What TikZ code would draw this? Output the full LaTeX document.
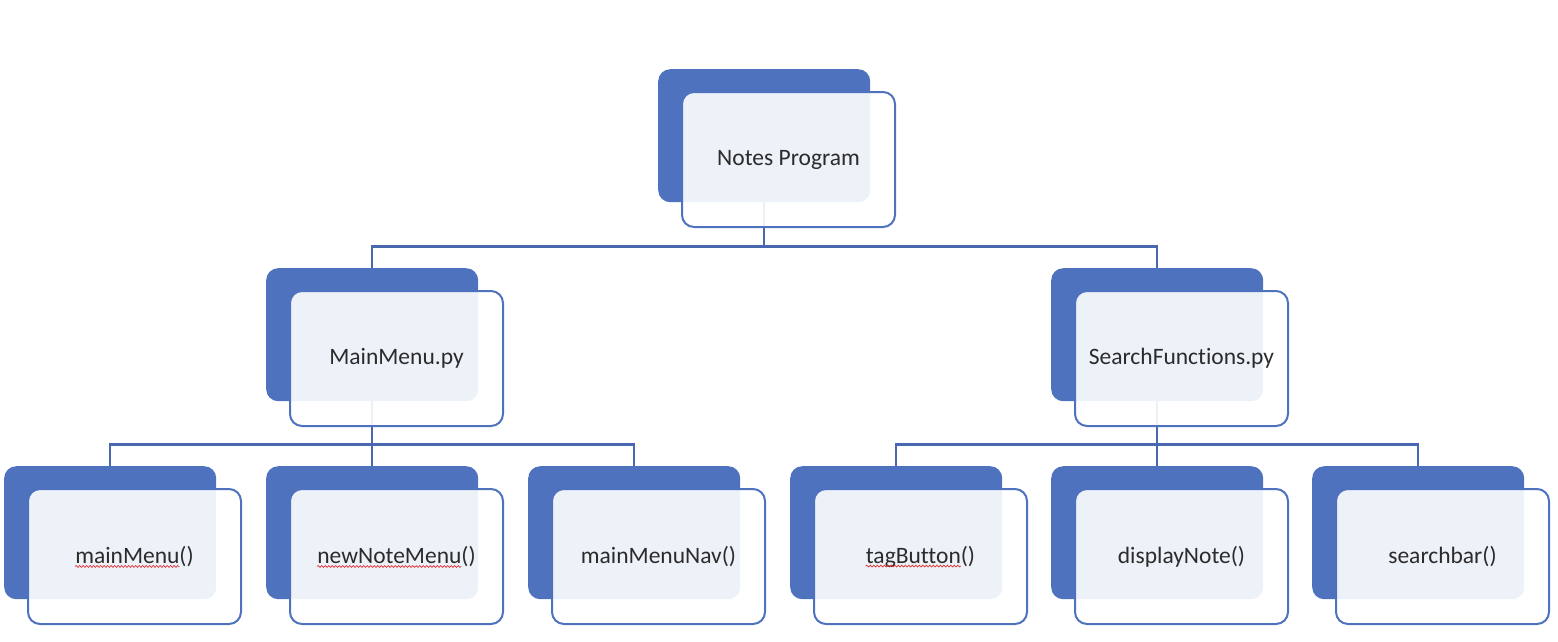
\documentclass[tikz,border=0pt]{standalone}
\usepackage{fontspec}
\setmainfont[Ligatures=NoCommon]{Carlito}
\usetikzlibrary{decorations.pathmorphing}
\definecolor{acc}{HTML}{4F72BE}
\definecolor{linec}{HTML}{4A68B0}
\definecolor{txtc}{HTML}{2B2B2B}
\definecolor{squigc}{HTML}{E03030}
\newlength\sqA
\newlength\sqB
\newlength\sqC
\AtBeginDocument{%
  \settowidth\sqA{\fontsize{23.5}{28}\selectfont mainMenu}%
  \settowidth\sqB{\fontsize{23.5}{28}\selectfont newNoteMenu}%
  \settowidth\sqC{\fontsize{23.5}{28}\selectfont tagButton}%
}
\tikzset{
  backbox/.style={fill=acc, draw=none, rounded corners=12pt, minimum width=212pt, minimum height=133pt, inner sep=0pt, anchor=north west},
  frontbox/.style={fill=white, fill opacity=0.9, draw=acc, draw opacity=1, line width=2pt, rounded corners=12pt, minimum width=213pt, minimum height=135pt, inner sep=0pt, anchor=north west},
  conn/.style={draw=linec, line width=2.2pt},
  txt/.style={inner sep=0pt, text=txtc, font=\fontsize{23.5}{28}\selectfont},
  squig/.style={draw=squigc, line width=0.7pt, decorate, decoration={snake, segment length=3.5pt, amplitude=0.9pt}}
}
\begin{document}
\begin{tikzpicture}[x=1pt,y=-1pt]
\useasboundingbox (0,0) rectangle (1558,641);
% back boxes
\node[backbox] (rb) at (658,69) {};
\node[backbox] (mb) at (266,268) {};
\node[backbox] (sb) at (1051,268) {};
\node[backbox] (b1) at (4,466) {};
\node[backbox] (b2) at (266,466) {};
\node[backbox] (b3) at (528,466) {};
\node[backbox] (b4) at (790,466) {};
\node[backbox] (b5) at (1051,466) {};
\node[backbox] (b6) at (1312,466) {};
% connectors
\draw[conn] (rb.south) -- ++(0,44) coordinate (j0);
\draw[conn] (j0) -| (mb.north);
\draw[conn] (j0) -| (sb.north);
\draw[conn] (mb.south) -- ++(0,43) coordinate (j1);
\draw[conn] (j1) -| (b1.north);
\draw[conn] (j1) -- (b2.north);
\draw[conn] (j1) -| (b3.north);
\draw[conn] (sb.south) -- ++(0,43) coordinate (j2);
\draw[conn] (j2) -| (b4.north);
\draw[conn] (j2) -- (b5.north);
\draw[conn] (j2) -| (b6.north);
% front boxes
\node[frontbox] (rf) at (681,91) {};
\node[frontbox] (mf) at (289,290) {};
\node[frontbox] (sf) at (1074,290) {};
\node[frontbox] (f1) at (27,488) {};
\node[frontbox] (f2) at (289,488) {};
\node[frontbox] (f3) at (551,488) {};
\node[frontbox] (f4) at (813,488) {};
\node[frontbox] (f5) at (1074,488) {};
\node[frontbox] (f6) at (1335,488) {};
% texts
\node[txt] (rt) at (rf.center) {Notes Program};
\node[txt] (mt) at (mf.center) {MainMenu.py};
\node[txt] (st) at (sf.center) {SearchFunctions.py};
\node[txt] (t1) at (f1.center) {mainMenu()};
\node[txt] (t2) at (f2.center) {newNoteMenu()};
\node[txt] (t3) at (f3.center) {mainMenuNav()};
\node[txt] (t4) at (f4.center) {tagButton()};
\node[txt] (t5) at (f5.center) {displayNote()};
\node[txt] (t6) at (f6.center) {searchbar()};
% spell-check underlines
\draw[squig] ([yshift=-3pt]t1.base west) -- ([yshift=-3pt,xshift=\sqA]t1.base west);
\draw[squig] ([yshift=-3pt]t2.base west) -- ([yshift=-3pt,xshift=\sqB]t2.base west);
\draw[squig] ([yshift=-3pt]t4.base west) -- ([yshift=-3pt,xshift=\sqC]t4.base west);
\end{tikzpicture}
\end{document}
